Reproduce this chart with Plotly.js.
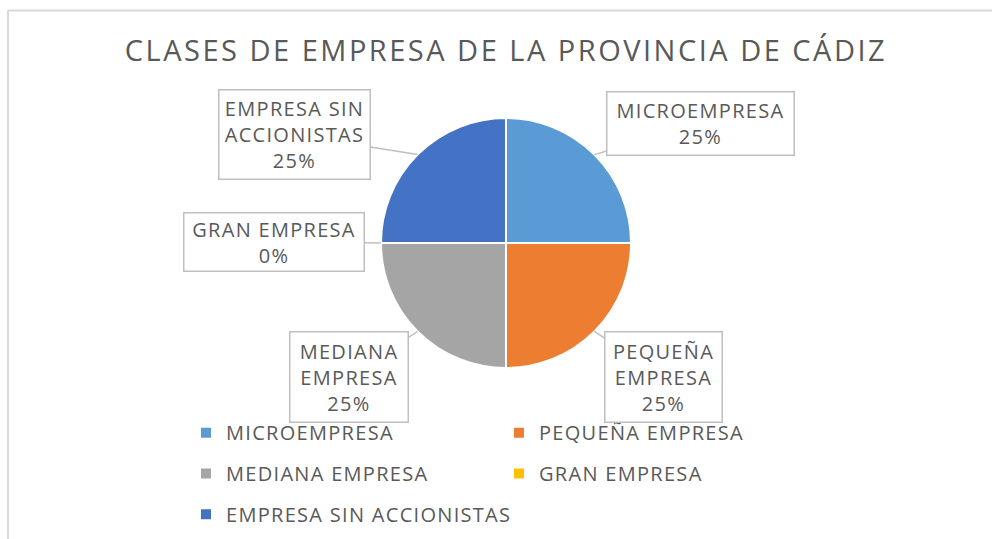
<!DOCTYPE html>
<html>
<head>
<meta charset="utf-8">
<script src="https://cdn.plot.ly/plotly-3.0.1.min.js"></script>
<style>html,body{margin:0;padding:0;background:#fff;}#chart{width:992px;height:539px;}</style>
</head>
<body>
<div id="chart"></div>
<script>
// ---- data ----
const categories = ["MICROEMPRESA", "PEQUEÑA EMPRESA", "MEDIANA EMPRESA", "GRAN EMPRESA", "EMPRESA SIN ACCIONISTAS"];
const values = [25, 25, 25, 0, 25];
const calloutLines = [["MICROEMPRESA"], ["PEQUEÑA", "EMPRESA"], ["MEDIANA", "EMPRESA"], ["GRAN EMPRESA"], ["EMPRESA SIN", "ACCIONISTAS"]];
const colors = ["#5B9BD5", "#ED7D31", "#A5A5A5", "#FFC000", "#4472C4"];
const titleText = "CLASES DE EMPRESA DE LA PROVINCIA DE CÁDIZ";

// ---- layout helpers ----
const W = 992, H = 539;
const MR = 300;            // right margin (limits legend to two columns)
const PW = W - MR;         // plot-area width in px
const cxPx = 506, cyPx = 243, rPx = 125;
const dom = {
  x: [(cxPx - rPx) / PW, (cxPx + rPx) / PW],
  y: [1 - (cyPx + rPx) / H, 1 - (cyPx - rPx) / H]
};
// callout box offsets (pixels, from arrow head) and sizes
const boxCfg = [
  {ax: 106, ay: -31, w: 178, h: 54},
  {ax: 69, ay: 46, w: 108, h: 81},
  {ax: -69, ay: 46, w: 109, h: 81},
  {ax: -107, ay: -1, w: 171, h: 49},
  {ax: -123, ay: -20, w: 142, h: 80}
];
const textColor = "#595959";
const font = "Open Sans, Noto Sans, sans-serif";
const sp = (t, ls, extra) => "<span style='letter-spacing:" + ls + "px;" + (extra || "") + "'>" + t + "</span>";

const total = values.reduce((a, b) => a + b, 0);
let cum = 0;
const annotations = values.map((v, i) => {
  const mid = (cum + v / 2) / total * 2 * Math.PI;
  cum += v;
  const px = cxPx + rPx * Math.sin(mid);
  const py = cyPx - rPx * Math.cos(mid);
  const pct = Math.round(v / total * 100) + "%";
  return {
    xref: "paper", yref: "paper",
    x: px / PW, y: 1 - py / H,
    axref: "pixel", ayref: "pixel",
    ax: boxCfg[i].ax, ay: boxCfg[i].ay,
    showarrow: true, arrowhead: 0, arrowwidth: 1.5, arrowcolor: "#BFBFBF",
    text: calloutLines[i].concat([pct]).map(l => sp(l, 1.3)).join("<br>"),
    font: {family: font, size: 20, color: textColor},
    align: "center", valign: "middle",
    width: boxCfg[i].w, height: boxCfg[i].h,
    bgcolor: "#FFFFFF", bordercolor: "#BFBFBF", borderwidth: 1.5, borderpad: 4
  };
});

const trace = {
  type: "pie",
  labels: categories.map(c => sp(c, 1.3, "font-size:20px;baseline-shift:4px")),
  values: values,
  sort: false,
  direction: "clockwise",
  rotation: 0,
  textinfo: "none",
  hoverinfo: "label+percent",
  marker: {colors: colors, line: {color: "#FFFFFF", width: 2}},
  domain: dom,
  showlegend: true
};

const layout = {
  width: W, height: H,
  margin: {l: 0, r: MR, t: 0, b: 0, autoexpand: false},
  paper_bgcolor: "#FFFFFF",
  title: {
    text: sp(titleText, 2.5),
    font: {family: font, size: 29, color: textColor},
    x: 506 / W, xanchor: "center", y: 1 - 51 / H, yanchor: "middle"
  },
  legend: {
    orientation: "h",
    x: 186 / PW, xanchor: "left",
    y: 1 - 407.5 / H, yanchor: "top",
    entrywidth: 268, entrywidthmode: "pixels",
    font: {family: font, size: 29, color: textColor},
    traceorder: "normal"
  },
  annotations: annotations,
  shapes: [
    {type: "line", xref: "paper", yref: "paper", x0: 8 / PW, x1: W / PW, y0: 1 - 10.5 / H, y1: 1 - 10.5 / H, line: {color: "#D9D9D9", width: 2}},
    {type: "line", xref: "paper", yref: "paper", x0: 8 / PW, x1: 8 / PW, y0: 1 - 10.5 / H, y1: 0, line: {color: "#D9D9D9", width: 2}}
  ]
};

Plotly.newPlot("chart", [trace], layout, {displayModeBar: false, staticPlot: true});
</script>
</body>
</html>
